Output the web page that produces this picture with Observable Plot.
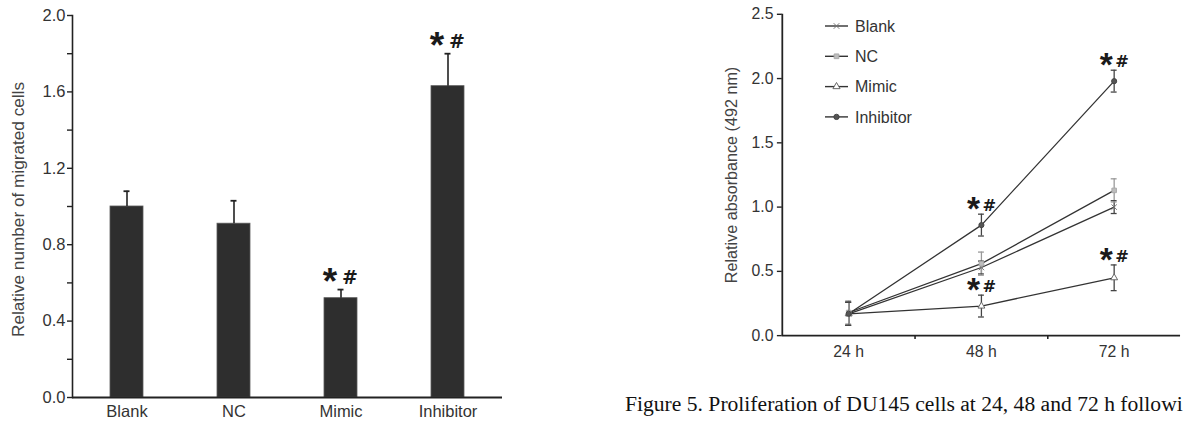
<!DOCTYPE html>
<html><head><meta charset="utf-8">
<script src="https://cdn.jsdelivr.net/npm/d3@7"></script>
<script src="https://cdn.jsdelivr.net/npm/@observablehq/plot@0.6"></script>
<style>
html,body{margin:0;padding:0;background:#fff;}
#wrap{position:relative;width:1183px;height:422px;overflow:hidden;background:#fff;font-family:"Liberation Sans",Arial,sans-serif;}
#left{position:absolute;left:0;top:0;}
#right{position:absolute;left:700px;top:0;}
#legend{position:absolute;left:700px;top:0;}
#caption{position:absolute;left:625px;top:392px;font-family:"Liberation Serif","Times New Roman",serif;font-size:21.6px;line-height:24px;white-space:nowrap;color:#111;}
</style></head><body>
<div id="wrap"><div id="left"></div><div id="right"></div><div id="legend"></div><div id="caption"></div></div>
<script>
// ---------- Left panel: migration ----------
const groups = ["Blank", "NC", "Mimic", "Inhibitor"];
const migrated = [1.00, 0.91, 0.52, 1.63];
const migratedErr = [0.08, 0.12, 0.045, 0.17];
const migratedSig = ["Mimic", "Inhibitor"];
const leftTicks = [0, 0.2, 0.4, 0.6, 0.8, 1.0, 1.2, 1.4, 1.6, 1.8, 2.0];
const leftTickLabels = ["0.0", "", "0.4", "", "0.8", "", "1.2", "", "1.6", "", "2.0"];
const leftYLabel = "Relative number of migrated cells";

// ---------- Right panel: proliferation ----------
const times = ["24 h", "48 h", "72 h"];
const seriesNames = ["Blank", "NC", "Mimic", "Inhibitor"];
const blankAbs = [0.17, 0.53, 1.00];
const ncAbs = [0.18, 0.56, 1.13];
const mimicAbs = [0.17, 0.23, 0.45];
const inhibitorAbs = [0.17, 0.86, 1.98];
const blankErr = [0.09, 0.05, 0.05];
const ncErr = [0.09, 0.09, 0.09];
const mimicErr = [0.09, 0.085, 0.10];
const inhibitorErr = [0.09, 0.085, 0.085];
const rightSig = [["Inhibitor", "48 h"], ["Inhibitor", "72 h"], ["Mimic", "48 h"], ["Mimic", "72 h"]];
const rightTicks = [0, 0.5, 1.0, 1.5, 2.0, 2.5];
const rightYLabel = "Relative absorbance (492 nm)";
const captionText = "Figure 5. Proliferation of DU145 cells at 24, 48 and 72 h followi";

const ink = "#222";
const font = "'Liberation Sans', Arial, sans-serif";
const hashFont = "'DejaVu Sans', 'Liberation Sans', sans-serif";

// ---- left chart
const leftData = groups.map((g, i) => ({g, v: migrated[i], e: migratedErr[i]}));
const leftSigData = leftData.filter(d => migratedSig.includes(d.g));

const left = Plot.plot({
  width: 515, height: 422,
  marginLeft: 72, marginRight: 13, marginTop: 15, marginBottom: 25,
  style: {fontSize: "16.5px", fontFamily: font, color: "#333", background: "transparent", overflow: "visible"},
  x: {domain: groups, paddingInner: 0.69, paddingOuter: 0.345, label: null},
  y: {domain: [0, 2], label: null},
  marks: [
    Plot.barY(leftData, {x: "g", y: "v", fill: "#2e2e2e", stroke: "#5a5a5a", strokeWidth: 0.8}),
    Plot.ruleX(leftData, {x: "g", y1: "v", y2: d => d.v + d.e, stroke: ink, strokeWidth: 1.6}),
    Plot.tickY(leftData, {x: "g", y: d => d.v + d.e, stroke: ink, strokeWidth: 1.8, insetLeft: 13.5, insetRight: 13.5}),
    Plot.ruleY([0], {stroke: ink, strokeWidth: 2}),
    Plot.frame({anchor: "left", stroke: ink, strokeWidth: 1.6}),
    Plot.axisY({ticks: leftTicks, tickSize: 5, tickPadding: 2, stroke: ink, strokeWidth: 1.4,
      tickFormat: d => leftTickLabels[leftTicks.findIndex(t => Math.abs(t - d) < 1e-9)], label: null}),
    Plot.text([leftYLabel], {text: d => d, frameAnchor: "left", textAnchor: "middle", lineAnchor: "middle",
      dx: -54, dy: 3, rotate: -90, fontSize: 17.2, fill: "#444"}),
    Plot.axisX({tickSize: 0, tickPadding: 8, label: null}),
    Plot.text(leftSigData, {x: "g", y: d => d.v + d.e, text: () => "*", dx: -11, dy: 4, lineAnchor: "bottom",
      fontSize: 37, fontWeight: "bold", fill: "#1a1a1a"}),
    Plot.text(leftSigData, {x: "g", y: d => d.v + d.e, text: () => "#", dx: 9, dy: -6, lineAnchor: "bottom",
      fontSize: 19, fontWeight: "bold", fontFamily: hashFont, fill: "#1a1a1a"})
  ]
});
document.getElementById("left").appendChild(left);

// ---- right chart
const absValues = [blankAbs, ncAbs, mimicAbs, inhibitorAbs];
const absErrs = [blankErr, ncErr, mimicErr, inhibitorErr];
const absData = [];
seriesNames.forEach((s, si) => times.forEach((t, ti) =>
  absData.push({series: s, t, pos: ti + 0.5, v: absValues[si][ti], e: absErrs[si][ti]})));
const rightSigData = rightSig.map(([s, t]) => absData.find(d => d.series === s && d.t === t));

const symbolOf = {Blank: "times", NC: "square", Mimic: "triangle", Inhibitor: "circle"};
const dotFill = {Blank: "none", NC: "#bdbdbd", Mimic: "#fff", Inhibitor: "#555"};
const dotStroke = {Blank: "#777", NC: "#aaa", Mimic: "#666", Inhibitor: "#444"};

const right = Plot.plot({
  width: 490, height: 362,
  marginLeft: 83, marginRight: 3, marginTop: 14, marginBottom: 22,
  style: {fontSize: "16px", fontFamily: font, color: "#333", background: "transparent", overflow: "visible"},
  x: {domain: [0, times.length], label: null},
  y: {domain: [0, 2.5], label: null},
  marks: [
    Plot.ruleY([0], {stroke: ink, strokeWidth: 2}),
    Plot.ruleX([0], {stroke: ink, strokeWidth: 1.8}),
    Plot.axisY({ticks: rightTicks, tickSize: 5, tickPadding: 4, stroke: ink, strokeWidth: 1.4,
      tickFormat: d => d.toFixed(1), label: null}),
    Plot.text([rightYLabel], {text: d => d, frameAnchor: "left", textAnchor: "middle", lineAnchor: "middle",
      dx: -51, rotate: -90, fontSize: 16.4, fill: "#444"}),
    Plot.axisX({ticks: [1, 2], tickSize: 4, tickFormat: () => "", stroke: ink, strokeWidth: 1.6, label: null}),
    Plot.axisX({ticks: times.map((t, i) => i + 0.5), tickSize: 0, tickPadding: 10,
      tickFormat: d => times[Math.floor(d)], label: null}),
    Plot.line(absData, {x: "pos", y: "v", z: "series", stroke: "#333", strokeWidth: 1.3}),
    Plot.ruleX(absData, {filter: d => d.series !== "NC", x: "pos", y1: d => d.v - d.e, y2: d => d.v + d.e, stroke: "#444", strokeWidth: 1.3}),
    Plot.ruleX(absData, {filter: d => d.series === "NC", x: "pos", y1: d => d.v - d.e, y2: d => d.v + d.e, stroke: "#999", strokeWidth: 1.3}),
    Plot.ruleY(absData, {x1: "pos", x2: "pos", y: d => d.v + d.e, insetLeft: -3, insetRight: -3,
      stroke: d => d.series === "NC" ? "#999" : "#444", strokeWidth: 1.3}),
    Plot.ruleY(absData, {x1: "pos", x2: "pos", y: d => d.v - d.e, insetLeft: -3, insetRight: -3,
      stroke: d => d.series === "NC" ? "#999" : "#444", strokeWidth: 1.3}),
    ...seriesNames.map(s => Plot.dot(absData, {filter: d => d.series === s, x: "pos", y: "v",
      symbol: () => symbolOf[s], r: 2.6, fill: dotFill[s], stroke: dotStroke[s], strokeWidth: 1})),
    Plot.text(rightSigData, {x: "pos", y: d => d.v + d.e, text: () => "*", dx: -8, dy: 6, lineAnchor: "bottom",
      fontSize: 34, fontWeight: "bold", fill: "#1a1a1a"}),
    Plot.text(rightSigData, {x: "pos", y: d => d.v + d.e, text: () => "#", dx: 8, dy: -3, lineAnchor: "bottom",
      fontSize: 16.5, fontWeight: "bold", fontFamily: hashFont, fill: "#1a1a1a"})
  ]
});
document.getElementById("right").appendChild(right);

// ---- legend
const lg = d3.select("#legend").append("svg").attr("width", 483).attr("height", 140)
  .style("font-family", font).style("font-size", "16px");
const rows = lg.selectAll("g").data(seriesNames).join("g")
  .attr("transform", (d, i) => `translate(0,${26 + i * 30.3})`);
rows.append("line").attr("x1", 125).attr("x2", 148).attr("stroke", "#333").attr("stroke-width", 1.4);
const d3sym = {Blank: d3.symbolTimes, NC: d3.symbolSquare, Mimic: d3.symbolTriangle, Inhibitor: d3.symbolCircle};
rows.append("path").attr("transform", "translate(136.5,0)")
  .attr("d", d => d3.symbol(d3sym[d], 22)())
  .attr("fill", d => dotFill[d]).attr("stroke", d => dotStroke[d]).attr("stroke-width", 1);
rows.append("text").attr("x", 155).attr("dy", "0.35em").attr("fill", "#333").text(d => d);

document.getElementById("caption").textContent = captionText;
</script>
</body></html>
